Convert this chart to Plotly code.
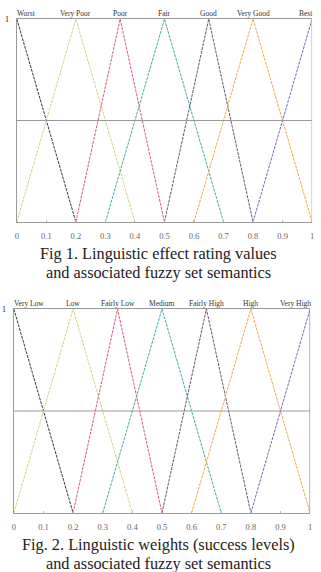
import plotly.graph_objects as go

# ---- data ----
labels1 = ["Worst", "Very Poor", "Poor", "Fair", "Good", "Very Good", "Best"]
left1 = [0.0, 0.0, 0.2, 0.3, 0.5, 0.6, 0.8]
peak1 = [0.0, 0.2, 0.35, 0.5, 0.65, 0.8, 1.0]
right1 = [0.2, 0.4, 0.5, 0.7, 0.8, 1.0, 1.0]

labels2 = ["Very Low", "Low", "Fairly Low", "Medium", "Fairly High", "High", "Very High"]
left2 = [0.0, 0.0, 0.2, 0.3, 0.5, 0.6, 0.8]
peak2 = [0.0, 0.2, 0.35, 0.5, 0.65, 0.8, 1.0]
right2 = [0.2, 0.4, 0.5, 0.7, 0.8, 1.0, 1.0]

tick_vals = [0, 0.1, 0.2, 0.3, 0.4, 0.5, 0.6, 0.7, 0.8, 0.9, 1]
tick_text = ["0", "0.1", "0.2", "0.3", "0.4", "0.5", "0.6", "0.7", "0.8", "0.9", "1"]

captions1 = ["Fig 1. Linguistic effect rating values", "and associated fuzzy set semantics"]
captions2 = ["Fig. 2. Linguistic weights (success levels)", "and associated fuzzy set semantics"]

colors = ["#383838", "#d2d27c", "#d65a80", "#48a8a4", "#625670", "#f0a84a", "#7e64b8"]

W, H = 321, 572
SERIF = "Liberation Serif, Times New Roman, serif"

fig = go.Figure()

panels = [
    dict(labels=labels1, l=left1, p=peak1, r=right1, xa="x", ya="y", cap=captions1,
         px=(15, 314), py=(19, 222), edge="#a8b6d4"),
    dict(labels=labels2, l=left2, p=peak2, r=right2, xa="x2", ya="y2", cap=captions2,
         px=(12, 312), py=(309, 513), edge="#5a86c8"),
]

for k, pn in enumerate(panels):
    for i, lab in enumerate(pn["labels"]):
        xs, ys = [], []
        if pn["l"][i] < pn["p"][i]:
            xs.append(pn["l"][i]); ys.append(0)
        xs.append(pn["p"][i]); ys.append(1)
        if pn["r"][i] > pn["p"][i]:
            xs.append(pn["r"][i]); ys.append(0)
        fig.add_trace(go.Scatter(x=xs, y=ys, mode="lines", xaxis=pn["xa"], yaxis=pn["ya"],
                                 line=dict(color=colors[i], width=1, dash="3px,1px"),
                                 showlegend=False, hoverinfo="skip"))
        xanchor = "center"
        xshift = 0
        if i == 0:
            xanchor, xshift = "left", -2
        elif i == len(pn["labels"]) - 1:
            xanchor, xshift = "right", 3
        fig.add_annotation(x=pn["p"][i], y=1, xref=pn["xa"], yref=pn["ya"], text=lab,
                           showarrow=False, xanchor=xanchor, yanchor="bottom", xshift=xshift,
                           yshift=-1, font=dict(family=SERIF, size=7.5, color="#333"))
    # mid line and right edge
    fig.add_shape(type="line", x0=0, x1=1, y0=0.5, y1=0.5, xref=pn["xa"], yref=pn["ya"],
                  line=dict(color="#999", width=1))
    fig.add_shape(type="line", x0=1, x1=1, y0=0, y1=1, xref=pn["xa"], yref=pn["ya"],
                  line=dict(color=pn["edge"], width=1.2))
    # "1" label
    fig.add_annotation(x=(pn["px"][0] - 10) / W, y=1, xref="paper", yref=pn["ya"], text="1",
                       showarrow=False, xanchor="center", yanchor="middle",
                       font=dict(family=SERIF, size=8, color="#222"))
    # caption (two lines)
    for j, line in enumerate(pn["cap"]):
        ycap = 1 - (pn["py"][1] + 31 + 19 * j) / H
        fig.add_annotation(x=158 / W, y=ycap, xref="paper", yref="paper", text=line,
                           showarrow=False, xanchor="center", yanchor="middle",
                           font=dict(family=SERIF, size=16.3, color="#222"))

    xdom = [pn["px"][0] / W, pn["px"][1] / W]
    ydom = [1 - pn["py"][1] / H, 1 - pn["py"][0] / H]
    xkey = "xaxis" if k == 0 else "xaxis2"
    ykey = "yaxis" if k == 0 else "yaxis2"
    fig.update_layout(**{
        xkey: dict(domain=xdom, range=[0, 1], anchor=pn["ya"], showgrid=False, zeroline=False,
                   showline=True, mirror=True, linecolor="#9a9a9a", linewidth=1,
                   tickvals=tick_vals, ticktext=tick_text, ticks="inside", ticklen=2,
                   tickcolor="#bbb", ticklabelstandoff=6,
                   tickfont=dict(family=SERIF, size=8.5, color="#666")),
        ykey: dict(domain=ydom, range=[0, 1], anchor=pn["xa"], showgrid=False, zeroline=False,
                   showline=True, linecolor="#9a9a9a", linewidth=1, showticklabels=False,
                   ticks=""),
    })

fig.update_layout(width=W, height=H, margin=dict(l=0, r=0, t=0, b=0),
                  paper_bgcolor="white", plot_bgcolor="white")

fig.write_html("out.html")
